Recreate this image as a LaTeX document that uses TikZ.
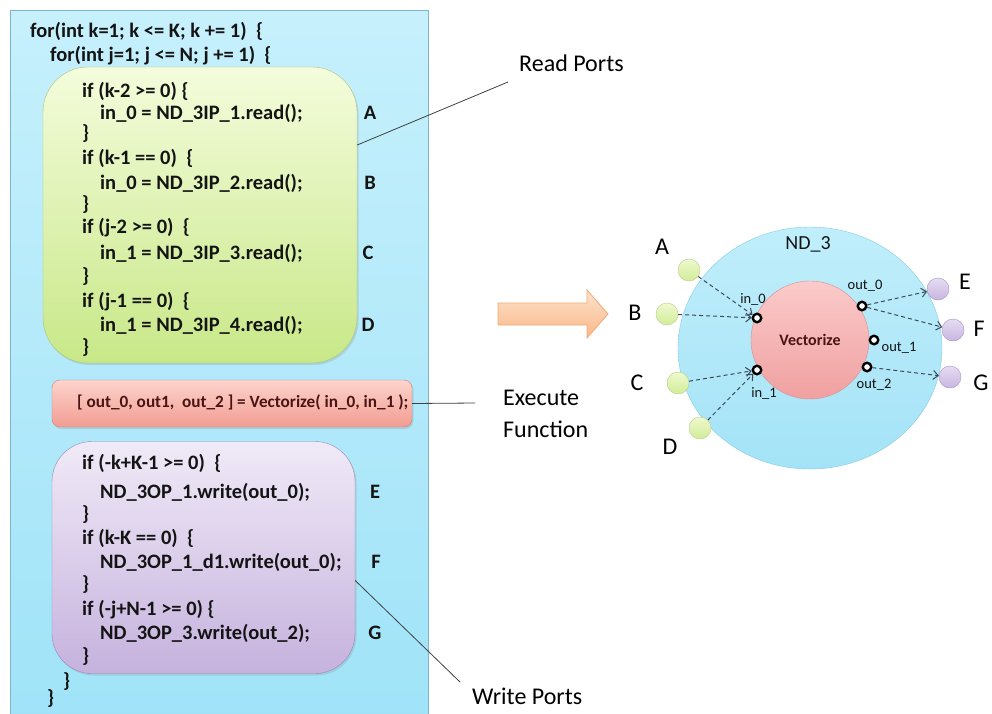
\documentclass[tikz,border=0pt]{standalone}
\usepackage{fontspec}
\setmainfont{Carlito}
\usetikzlibrary{shapes.geometric,arrows.meta,shadows}
\definecolor{codetext}{HTML}{141414}
\definecolor{bluetop}{HTML}{C6F0FC}
\definecolor{bluebot}{HTML}{A0E3F8}
\definecolor{blueedge}{HTML}{7FB4CC}
\definecolor{greentop}{HTML}{F4FCDC}
\definecolor{greenbot}{HTML}{C8E888}
\definecolor{greenedge}{HTML}{A9C27E}
\definecolor{redtop}{HTML}{FCD4CC}
\definecolor{redbot}{HTML}{F29C92}
\definecolor{rededge}{HTML}{D07E78}
\definecolor{redtext}{HTML}{4A1414}
\definecolor{purptop}{HTML}{F0EAF7}
\definecolor{purpbot}{HTML}{C6B2DE}
\definecolor{purpedge}{HTML}{9A8AB4}
\definecolor{ndtop}{HTML}{C0EEFB}
\definecolor{ndbot}{HTML}{A4E3F7}
\definecolor{ndedge}{HTML}{86CCE4}
\definecolor{vectop}{HTML}{FBCACA}
\definecolor{vecbot}{HTML}{F0A0A0}
\definecolor{vecedge}{HTML}{D49090}
\definecolor{gporttop}{HTML}{EEF9CE}
\definecolor{gportbot}{HTML}{D2EC98}
\definecolor{gportedge}{HTML}{B4CC88}
\definecolor{pporttop}{HTML}{E6DCF2}
\definecolor{pportbot}{HTML}{C8B6E0}
\definecolor{pportedge}{HTML}{A494C4}
\definecolor{arrtop}{HTML}{FDE2CC}
\definecolor{arrbot}{HTML}{F9B888}
\definecolor{arredge}{HTML}{F0AA78}
\definecolor{leadergray}{HTML}{404040}
\definecolor{flowgray}{HTML}{3C4A58}
\begin{document}
\begin{tikzpicture}[x=1pt,y=-1pt,
  code/.style={anchor=west, inner sep=0pt, text=codetext, font=\fontsize{20.5}{24}\selectfont\bfseries},
  tag/.style={inner sep=0pt, text=codetext, font=\fontsize{20.5}{24}\selectfont\bfseries},
  note/.style={inner sep=0pt, text=black, font=\fontsize{24}{32}\selectfont},
  bigletter/.style={inner sep=0pt, text=black, font=\fontsize{24}{28}\selectfont},
  portlbl/.style={inner sep=0pt, text=codetext, font=\fontsize{14.5}{16}\selectfont},
  leader/.style={draw=leadergray, line width=0.8pt},
  dataflow/.style={draw=flowgray, line width=1pt, dash pattern=on 4pt off 3pt, -{Straight Barb[length=5pt,width=9pt]}},
  port/.style={circle, draw=black, fill=white, line width=2.4pt, minimum size=8.5pt, inner sep=0pt},
  inport/.style={circle, draw=gportedge, top color=gporttop, bottom color=gportbot, minimum size=22pt, inner sep=0pt},
  outport/.style={circle, draw=pportedge, top color=pporttop, bottom color=pportbot, minimum size=22pt, inner sep=0pt},
  softshadow/.style={drop shadow={opacity=0.22, shadow xshift=1.5pt, shadow yshift=-2pt}}
]
\useasboundingbox (0,0) rectangle (992,713);
\clip (0,0) rectangle (992,713);
\fill[white] (0,0) rectangle (992,713);

% outer loop box
\node[draw=blueedge, top color=bluetop, bottom color=bluebot, minimum width=418pt, minimum height=712pt, inner sep=0pt] (loop) at (219,366) {};

% read ports box
\node[draw=greenedge, top color=greentop, bottom color=greenbot, rounded corners=45pt, minimum width=314pt, minimum height=296pt, inner sep=0pt, softshadow] (readbox) at (200,215) {};
% execute box
\node[draw=rededge, top color=redtop, bottom color=redbot, rounded corners=8pt, minimum width=360pt, minimum height=47pt, inner sep=0pt, softshadow] (execbox) at (232,403.5) {};
% write ports box
\node[draw=purpedge, top color=purptop, bottom color=purpbot, rounded corners=40pt, minimum width=303pt, minimum height=232pt, inner sep=0pt, softshadow] (writebox) at (203.5,557.5) {};

% code text
\node[code] (l1) at (30,31) {for(int k=1; k <= K; k += 1)\ \ \{};
\node[code] (l2) at (50,56) {for(int j=1; j <= N; j += 1)\ \ \{};
\node[code] (r1) at (82,91) {if (k-2 >= 0) \{};
\node[code] (r2) at (100,113) {in\_0 = ND\_3IP\_1.read();};
\node[code] (r3) at (82,134) {\}};
\node[code] (r4) at (82,158) {if (k-1 == 0)\ \ \{};
\node[code] (r5) at (100,183) {in\_0 = ND\_3IP\_2.read();};
\node[code] (r6) at (82,205) {\}};
\node[code] (r7) at (82,228) {if (j-2 >= 0)\ \ \{};
\node[code] (r8) at (100,253) {in\_1 = ND\_3IP\_3.read();};
\node[code] (r9) at (82,277) {\}};
\node[code] (r10) at (82,302) {if (j-1 == 0)\ \ \{};
\node[code] (r11) at (100,325) {in\_1 = ND\_3IP\_4.read();};
\node[code] (r12) at (82,348) {\}};
\node[tag] (tA) at (370,113) {A};
\node[tag] (tB) at (370,183) {B};
\node[tag] (tC) at (368,253) {C};
\node[tag] (tD) at (368,325) {D};

\node[anchor=west, inner sep=0pt, text=redtext, font=\fontsize{17.2}{20}\selectfont\bfseries] (ex) at (77,402) {[ out\_0, out1,\ \ out\_2 ] = Vectorize( in\_0, in\_1 );};

\node[code] (w1) at (82,463) {if (-k+K-1 >= 0)\ \ \{};
\node[code] (w2) at (100,492) {ND\_3OP\_1.write(out\_0);};
\node[code] (w3) at (82,515) {\}};
\node[code] (w4) at (82,538) {if (k-K == 0)\ \ \{};
\node[code] (w5) at (100,562) {ND\_3OP\_1\_d1.write(out\_0);};
\node[code] (w6) at (82,585) {\}};
\node[code] (w7) at (82,610) {if (-j+N-1 >= 0)\ \{};
\node[code] (w8) at (100,633) {ND\_3OP\_3.write(out\_2);};
\node[code] (w9) at (82,657) {\}};
\node[tag] (tE) at (375,492) {E};
\node[tag] (tF) at (376,562) {F};
\node[tag] (tG) at (375,633) {G};
\node[code] (e1) at (63,682) {\}};
\node[code] (e2) at (47,699) {\}};

% annotations
\coordinate (readend) at (508,82);
\coordinate (execend) at (475,403);
\coordinate (writeend) at (460,682);
\draw[leader] ([yshift=70pt]readbox.east) -- (readend);
\draw[leader] (execbox.east) -- (execend);
\draw[leader] ([yshift=-23pt]writebox.east) -- (writeend);
\node[note, anchor=west] (readlbl) at (519,63) {Read Ports};
\node[note, anchor=west, align=left] (execlbl) at (503,414) {Execute\\Function};
\node[note, anchor=west] (writelbl) at (472,696) {Write Ports};

% big arrow
\path[draw=arredge, top color=arrtop, bottom color=arrbot, line width=0.8pt]
  (498,303) -- (587,303) -- (587,290) -- (608,314) -- (587,338) -- (587,325) -- (498,325) -- cycle;

% process network node
\node[ellipse, draw=ndedge, top color=ndtop, bottom color=ndbot, minimum width=264pt, minimum height=242pt, inner sep=0pt] (nd) at (810,348) {};
\node[circle, draw=vecedge, top color=vectop, bottom color=vecbot, minimum size=118pt, inner sep=0pt, text=redtext, font=\fontsize{16}{18}\selectfont\bfseries] (vec) at (810,340) {Vectorize};
\node[inner sep=0pt, text=codetext, font=\fontsize{20}{22}\selectfont] (ndname) at (808,244) {ND\_3};

\node[port] (in0) at (757,318) {};
\node[port] (in1) at (757,370) {};
\node[port] (out0) at (862,306) {};
\node[port] (out1) at (874,340) {};
\node[port] (out2) at (867,367) {};
\node[portlbl] (lin0) at (753,299) {in\_0};
\node[portlbl] (lin1) at (764,393) {in\_1};
\node[portlbl] (lout0) at (865,286) {out\_0};
\node[portlbl] (lout1) at (899,348) {out\_1};
\node[portlbl] (lout2) at (874,385) {out\_2};

\node[inport] (pA) at (689,270) {};
\node[inport] (pB) at (667,314) {};
\node[inport] (pC) at (678,383) {};
\node[inport] (pD) at (700,428) {};
\node[outport] (pE) at (938,289) {};
\node[outport] (pF) at (953,330) {};
\node[outport] (pG) at (950,377) {};

\node[bigletter] (LA) at (662,247) {A};
\node[bigletter] (LB) at (635,313) {B};
\node[bigletter] (LC) at (637,383) {C};
\node[bigletter] (LD) at (670,447) {D};
\node[bigletter] (LE) at (965,282) {E};
\node[bigletter] (LF) at (979,329) {F};
\node[bigletter] (LG) at (981,383) {G};

\draw[dataflow] (pA) -- (in0);
\draw[dataflow] (pB) -- (in0);
\draw[dataflow] (pC) -- (in1);
\draw[dataflow] (pD) -- (in1);
\draw[dataflow] (out0) -- (pE);
\draw[dataflow] (out0) -- (pF);
\draw[dataflow] (out2) -- (pG);
\end{tikzpicture}
\end{document}
